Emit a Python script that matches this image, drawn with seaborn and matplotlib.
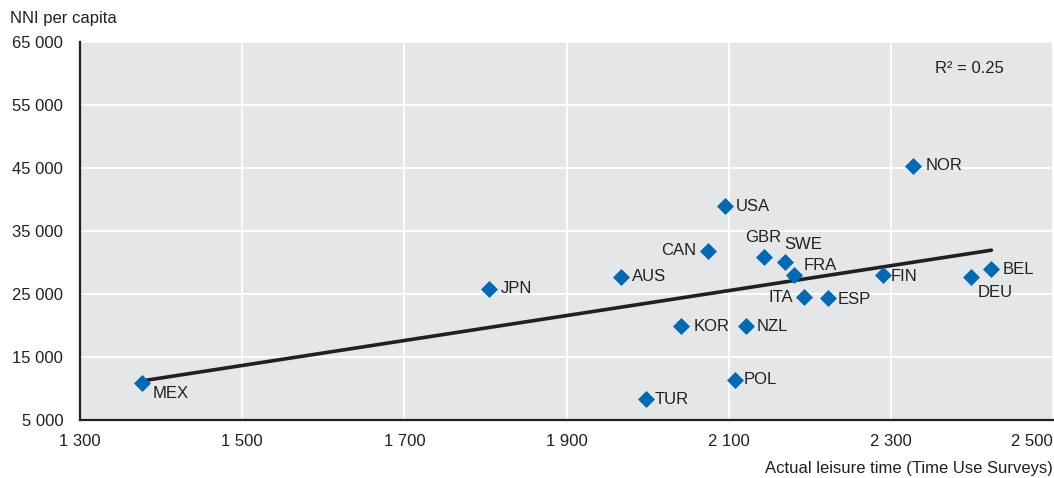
import numpy as np
import pandas as pd
import matplotlib
matplotlib.use("Agg")
import matplotlib.pyplot as plt
import seaborn as sns

countries = ["MEX", "TUR", "POL", "JPN", "AUS", "CAN", "USA", "GBR", "SWE", "FRA",
             "ITA", "ESP", "KOR", "NZL", "NOR", "FIN", "DEU", "BEL"]
leisure = [1377, 1998, 2108, 1805, 1967, 2075, 2095, 2144, 2169, 2181,
           2193, 2223, 2041, 2121, 2327, 2290, 2399, 2424]
nni = [10900, 8300, 11350, 25800, 27700, 31900, 38950, 30800, 30100, 28000,
       24450, 24400, 19900, 19900, 45350, 28000, 27650, 28900]

x_ticks = [1300, 1500, 1700, 1900, 2100, 2300, 2500]
y_ticks = [5000, 15000, 25000, 35000, 45000, 55000, 65000]
r2_text = "R² = 0.25"

# label offsets (points) and alignment for each country
label_pos = {
    "MEX": (7, -8, "left", "center"), "TUR": (6, 0, "left", "center"),
    "POL": (6, 0, "left", "center"), "JPN": (8, 0, "left", "center"),
    "AUS": (8, 0, "left", "center"), "CAN": (-9, 0, "right", "center"),
    "USA": (8, 0, "left", "center"), "GBR": (-1, 9, "center", "bottom"),
    "SWE": (0, 7, "left", "bottom"), "FRA": (7, 7, "left", "center"),
    "ITA": (-8, 0, "right", "center"), "ESP": (7, -1, "left", "center"),
    "KOR": (9, 0, "left", "center"), "NZL": (8, 0, "left", "center"),
    "NOR": (9, 0, "left", "center"), "FIN": (6, -1, "left", "center"),
    "DEU": (5, -11, "left", "center"), "BEL": (8, 0, "left", "center"),
}

df = pd.DataFrame({"country": countries, "leisure": leisure, "nni": nni})

sns.set_theme(style="white")
plt.rcParams["font.family"] = ["Liberation Sans", "DejaVu Sans"]
text_col = "#231f20"
blue = "#0069b4"

fig = plt.figure(figsize=(10.54, 4.78), dpi=100)
ax = fig.add_axes([80 / 1054, 58 / 478, 973 / 1054, 378 / 478])
ax.set_facecolor("#e5e6e8")

sns.scatterplot(data=df, x="leisure", y="nni", marker="D", s=75, color=blue,
                edgecolor=blue, linewidth=0, ax=ax, zorder=4)

# linear fit
slope, intercept = np.polyfit(df["leisure"], df["nni"], 1)
xs = np.array([df["leisure"].min(), df["leisure"].max()])
ax.plot(xs, slope * xs + intercept, color=text_col, lw=2.6, zorder=3)

for _, r in df.iterrows():
    dx, dy, ha, va = label_pos[r["country"]]
    ax.annotate(r["country"], (r["leisure"], r["nni"]), xytext=(dx, dy),
                textcoords="offset points", ha=ha, va=va, fontsize=12,
                color=text_col, zorder=5)

ax.set_xlim(1300, 2500)
ax.set_ylim(5000, 65000)
ax.set_xticks(x_ticks)
ax.set_yticks(y_ticks)
ax.set_xticklabels([f"{v:,}".replace(",", " ") for v in x_ticks])
ax.set_yticklabels([f"{v:,}".replace(",", " ") for v in y_ticks])
ax.get_xticklabels()[-1].set_horizontalalignment("right")
ax.grid(True, color="white", lw=1.3)
ax.set_axisbelow(True)

for s in ["top", "right"]:
    ax.spines[s].set_visible(False)
for s in ["left", "bottom"]:
    ax.spines[s].set_color(text_col)
    ax.spines[s].set_linewidth(1.6)

ax.tick_params(axis="both", direction="in", length=5, width=1, color=text_col,
               labelsize=12, labelcolor=text_col)
ax.tick_params(axis="y", pad=12)
ax.tick_params(axis="x", pad=10)
ax.set_xlabel("")
ax.set_ylabel("")

fig.text(10 / 1054, 1 - 18 / 478, "NNI per capita", fontsize=12, color=text_col,
         ha="left", va="center")
fig.text(1053 / 1054, 1 - 468 / 478, "Actual leisure time (Time Use Surveys)",
         fontsize=12, color=text_col, ha="right", va="center")
ax.text(0.95, 0.93, r2_text, transform=ax.transAxes, fontsize=12,
        color=text_col, ha="right", va="center")

fig.savefig("out.png", dpi=100)
